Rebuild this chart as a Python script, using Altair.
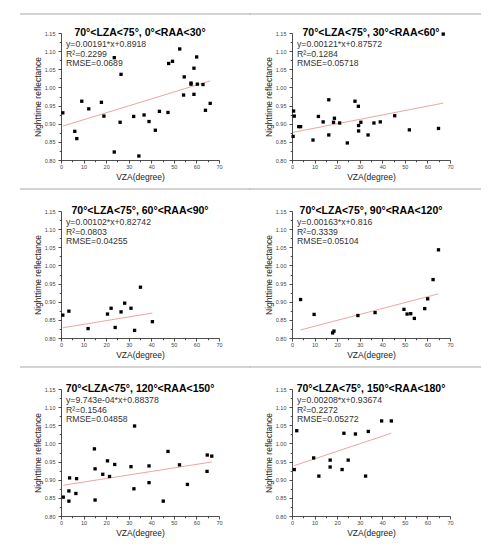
import altair as alt
import pandas as pd

panel_titles = [
    "70°<LZA<75°, 0°<RAA<30°",
    "70°<LZA<75°, 30°<RAA<60°",
    "70°<LZA<75°, 60°<RAA<90°",
    "70°<LZA<75°, 90°<RAA<120°",
    "70°<LZA<75°, 120°<RAA<150°",
    "70°<LZA<75°, 150°<RAA<180°",
]
fit_slopes = [0.00191, 0.00121, 0.00102, 0.00163, 9.743e-04, 0.00208]
fit_intercepts = [0.8918, 0.87572, 0.82742, 0.816, 0.88378, 0.93674]
eq_texts = ["y=0.00191*x+0.8918", "y=0.00121*x+0.87572", "y=0.00102*x+0.82742",
            "y=0.00163*x+0.816", "y=9.743e-04*x+0.88378", "y=0.00208*x+0.93674"]
r2_texts = ["R²=0.2299", "R²=0.1284", "R²=0.0803", "R²=0.3339", "R²=0.1546", "R²=0.2272"]
rmse_texts = ["RMSE=0.0689", "RMSE=0.05718", "RMSE=0.04255", "RMSE=0.05104", "RMSE=0.04858", "RMSE=0.05272"]

x_ticks = [0, 5, 10, 15, 20, 25, 30, 35, 40, 45, 50, 55, 60, 65, 70]
y_ticks = [0.80, 0.825, 0.85, 0.875, 0.90, 0.925, 0.95, 0.975, 1.00, 1.025, 1.05, 1.075, 1.10, 1.125, 1.15]

# panel 1: 0<RAA<30
vza_1 = [0.8, 6.1, 7.0, 9.2, 12.3, 17.9, 19.0, 23.6, 23.6, 26.2, 26.6, 32.2, 34.5, 36.8, 39.0, 41.8,
         43.6, 47.4, 47.7, 49.4, 52.6, 54.6, 54.3, 57.6, 57.6, 58.9, 58.9, 60.1, 60.4, 62.9, 64.0, 66.1]
refl_1 = [0.930, 0.879, 0.859, 0.962, 0.941, 0.959, 0.921, 0.822, 1.082, 0.904, 1.036, 0.920, 0.811, 0.924, 0.906, 0.882,
          0.934, 0.931, 1.066, 1.072, 1.106, 1.029, 0.979, 1.009, 1.012, 1.053, 0.981, 1.084, 1.009, 1.008, 0.937, 0.956]
# panel 2: 30<RAA<60
vza_2 = [0.7, 1.0, 0.5, 3.0, 3.8, 9.3, 11.7, 13.8, 16.3, 16.3, 18.4, 18.8, 21.1, 24.5, 27.9, 29.4,
         29.5, 29.5, 30.5, 33.7, 36.3, 39.1, 45.5, 52.0, 64.9, 67.0]
refl_2 = [0.935, 0.921, 0.865, 0.892, 0.892, 0.855, 0.920, 0.905, 0.966, 0.869, 0.904, 0.915, 0.902, 0.847, 0.962, 0.948,
          0.895, 0.880, 0.904, 0.869, 0.902, 0.905, 0.922, 0.883, 0.887, 1.147]
# panel 3: 60<RAA<90
vza_3 = [0.8, 3.5, 12.0, 20.6, 22.2, 24.0, 26.6, 28.2, 31.0, 32.6, 35.2, 40.5]
refl_3 = [0.863, 0.874, 0.826, 0.866, 0.882, 0.829, 0.872, 0.896, 0.882, 0.821, 0.940, 0.845]
# panel 4: 90<RAA<120
vza_4 = [3.8, 9.8, 18.0, 18.6, 29.2, 36.8, 49.6, 51.0, 52.6, 54.2, 58.8, 60.1, 62.5, 64.9]
refl_4 = [0.906, 0.865, 0.814, 0.819, 0.862, 0.870, 0.879, 0.866, 0.867, 0.854, 0.881, 0.908, 0.961, 1.043]
# panel 5: 120<RAA<150
vza_5 = [1.0, 3.5, 3.5, 3.8, 6.6, 6.9, 14.8, 15.1, 15.1, 18.5, 20.6, 21.5, 23.8, 31.0, 32.3, 32.6,
         39.0, 39.0, 45.3, 47.4, 52.5, 56.0, 64.7, 64.8, 66.8]
refl_5 = [0.852, 0.841, 0.869, 0.905, 0.862, 0.903, 0.985, 0.930, 0.844, 0.915, 0.952, 0.909, 0.942, 0.936, 0.875, 1.048,
          0.938, 0.892, 0.841, 0.978, 0.941, 0.887, 0.923, 0.968, 0.965]
# panel 6: 150<RAA<180
vza_6 = [1.0, 2.1, 9.6, 11.9, 16.9, 16.9, 22.2, 23.0, 24.9, 28.1, 32.6, 33.8, 39.7, 44.0]
refl_6 = [0.928, 1.035, 0.960, 0.910, 0.954, 0.935, 0.928, 1.028, 0.954, 1.026, 0.910, 1.033, 1.062, 1.062]

all_vza = [vza_1, vza_2, vza_3, vza_4, vza_5, vza_6]
all_refl = [refl_1, refl_2, refl_3, refl_4, refl_5, refl_6]

W, H = 158, 127
FONT = "Liberation Sans"


def panel(i, sep_y, sep_x0, sep_x1):
    xs, ys = all_vza[i], all_refl[i]
    pts = pd.DataFrame({"VZA": xs, "refl": ys})
    one = pd.DataFrame({"k": [0]})
    fit = pd.DataFrame({"VZA": [min(xs), max(xs)],
                        "slope": [fit_slopes[i]] * 2,
                        "icpt": [fit_intercepts[i]] * 2})
    xsc = alt.Scale(domain=[0, 70], nice=False, zero=False)
    ysc = alt.Scale(domain=[0.80, 1.15], nice=False, zero=False)
    xaxis = alt.Axis(
        title="VZA(degree)", values=x_ticks,
        labelExpr="datum.value % 10 === 0 ? datum.label : ''",
        tickSize={"condition": {"test": "datum.value % 10 === 0", "value": 3}, "value": 1.8},
        labelPadding=1, titlePadding=3, labelFlush=False,
    )
    yaxis = alt.Axis(
        title="Nighttime reflectance", values=y_ticks, format=".2f",
        labelExpr="abs(datum.value*20 - round(datum.value*20)) < 0.01 ? datum.label : ''",
        tickSize={"condition": {"test": "abs(datum.value*20 - round(datum.value*20)) < 0.01", "value": 3},
                  "value": 1.8},
        labelPadding=3, titlePadding=2, labelFlush=False,
    )
    sep = alt.Chart(one).mark_rule(color="#c6c6c6", strokeWidth=1.5).encode(
        x=alt.value(sep_x0), x2=alt.value(sep_x1), y=alt.value(sep_y))
    line = alt.Chart(fit).transform_calculate(
        refl="datum.slope*datum.VZA+datum.icpt"
    ).mark_line(color="#f2a3a3", strokeWidth=1).encode(
        x=alt.X("VZA:Q", scale=xsc, axis=xaxis),
        y=alt.Y("refl:Q", scale=ysc, axis=yaxis))
    dots = alt.Chart(pts).mark_point(shape="square", filled=True, color="black", size=11, opacity=1).encode(
        x=alt.X("VZA:Q", scale=xsc, axis=xaxis),
        y=alt.Y("refl:Q", scale=ysc, axis=yaxis))
    ttl = alt.Chart(one).mark_text(
        text=panel_titles[i], font=FONT, fontSize=10.5, fontWeight="bold", color="black",
        align="center", baseline="middle").encode(x=alt.value(W / 2), y=alt.value(0))
    txts = []
    for t, dy in zip([eq_texts[i], r2_texts[i], rmse_texts[i]], [10.5, 20.5, 30]):
        txts.append(alt.Chart(one).mark_text(
            text=t, font=FONT, fontSize=8.7, color="#333333", align="left", baseline="middle"
        ).encode(x=alt.value(5), y=alt.value(dy)))
    return alt.layer(sep, line, ttl, *txts, dots).properties(width=W, height=H)


seps = [(-19, -41, 190), (-19, -43, 189), (-22, -41, 190), (-22, -43, 189), (-22, -41, 190), (-22, -43, 189)]
panels = [panel(i, *seps[i]) for i in range(6)]

chart = alt.concat(
    *panels, columns=2, spacing={"row": 51, "column": 73}, bounds="flush",
    padding={"left": 11, "top": 5, "right": 5, "bottom": 5},
).configure_view(stroke=None).configure_axis(
    grid=False, domainColor="#222222", tickColor="#222222", domainWidth=0.8, tickWidth=0.8,
    labelColor="#444444", labelFont=FONT, labelFontSize=5.5,
    titleFont=FONT, titleFontSize=8.5, titleFontWeight="normal", titleColor="#222222",
)

chart.save("out.html", embed_options={"renderer": "svg", "actions": False})
